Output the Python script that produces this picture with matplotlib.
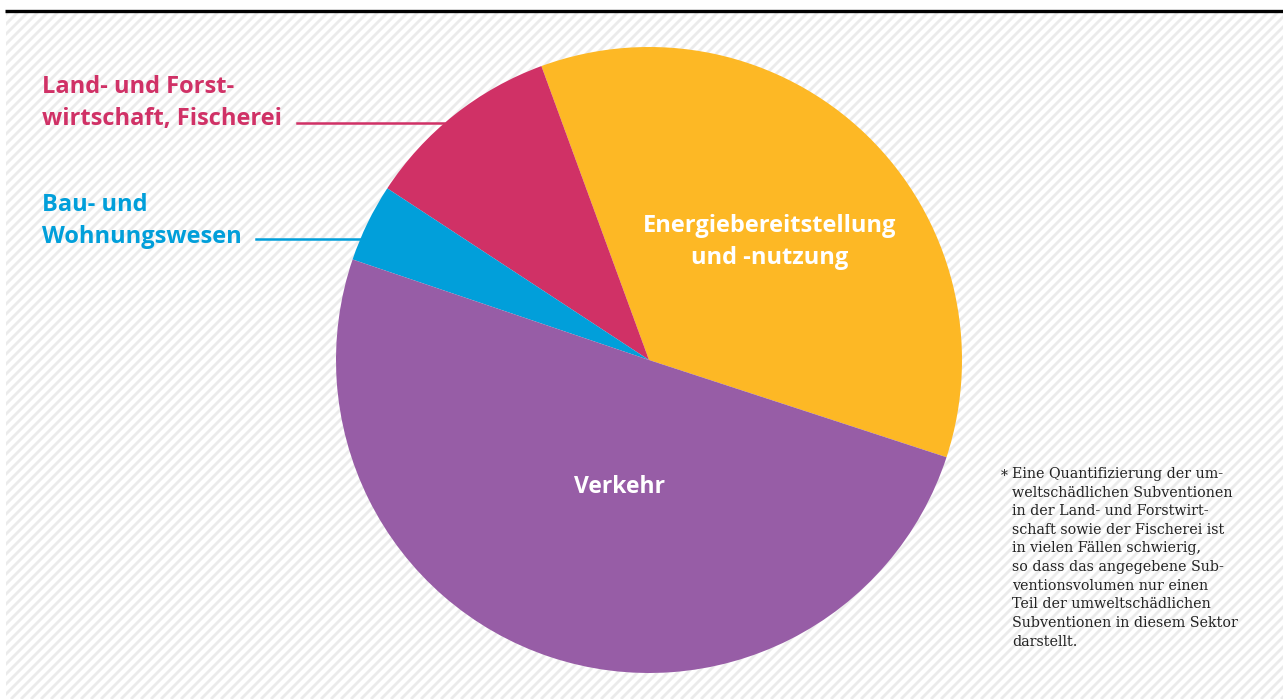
import matplotlib.pyplot as plt
from matplotlib.collections import LineCollection
from matplotlib.patches import Rectangle
import numpy as np

# Data (Mrd. Euro, umweltschädliche Subventionen nach Sektoren)
sectors = ["Energiebereitstellung\nund -nutzung", "Land- und Forst-\nwirtschaft, Fischerei",
           "Bau- und\nWohnungswesen", "Verkehr"]
values = [20.3, 5.8, 2.3, 28.6]
colors = ["#FDB825", "#D03166", "#019FDA", "#975DA6"]
footnote = ("Eine Quantifizierung der um-\nweltschädlichen Subventionen\nin der Land- und Forstwirt-\n"
            "schaft sowie der Fischerei ist\nin vielen Fällen schwierig,\nso dass das angegebene Sub-\n"
            "ventionsvolumen nur einen\nTeil der umweltschädlichen\nSubventionen in diesem Sektor\ndarstellt.")

W, H = 1283, 699
fig = plt.figure(figsize=(W / 100, H / 100), dpi=100)
ax = fig.add_axes([0, 0, 1, 1])
ax.set_xlim(0, W)
ax.set_ylim(0, H)
ax.axis("off")

def Y(y):  # image row -> data y
    return H - y

# hatched background
segs = [[(x0, 0), (x0 + H, H)] for x0 in np.arange(-H, W + 10, 10)]
lc = LineCollection(segs, colors="#ebebeb", linewidths=2.0, zorder=0)
ax.add_collection(lc)
lc.set_clip_path(Rectangle((6, 0), W - 6, Y(12), transform=ax.transData))

# top rule
ax.plot([5, W], [Y(11), Y(11)], color="black", lw=2.4, solid_capstyle="butt", zorder=2)

# pie
ax.pie(values, colors=colors, startangle=-18.1, counterclock=True,
       center=(649, Y(360)), radius=313, frame=True,
       wedgeprops=dict(linewidth=0))
ax.set_xlim(0, W)
ax.set_ylim(0, H)
ax.set_aspect("auto")
ax.axis("off")

lab_font = "Open Sans"
ax.text(770, Y(242), sectors[0], color="white", fontsize=17, fontweight="bold",
        family=lab_font, ha="center", va="center", linespacing=1.45)
ax.text(619, Y(487), sectors[3], color="white", fontsize=16.5, fontweight="bold",
        family=lab_font, ha="center", va="center")

ax.text(42, Y(103), sectors[1], color=colors[1], fontsize=17, fontweight="bold",
        family=lab_font, ha="left", va="center", linespacing=1.45)
ax.plot([297, 444], [Y(122.5), Y(122.5)], color=colors[1], lw=1.8)

ax.text(42, Y(221), sectors[2], color=colors[2], fontsize=17, fontweight="bold",
        family=lab_font, ha="left", va="center", linespacing=1.45)
ax.plot([256, 360], [Y(239), Y(239)], color=colors[2], lw=1.8)

ax.text(1001, Y(469), "*", color="#222222", fontsize=10, family="DejaVu Serif",
        ha="left", va="top")
ax.text(1012, Y(467), footnote, color="#222222", fontsize=10.3, family="DejaVu Serif",
        ha="left", va="top", linespacing=1.42)

fig.savefig("out.png", dpi=100)
